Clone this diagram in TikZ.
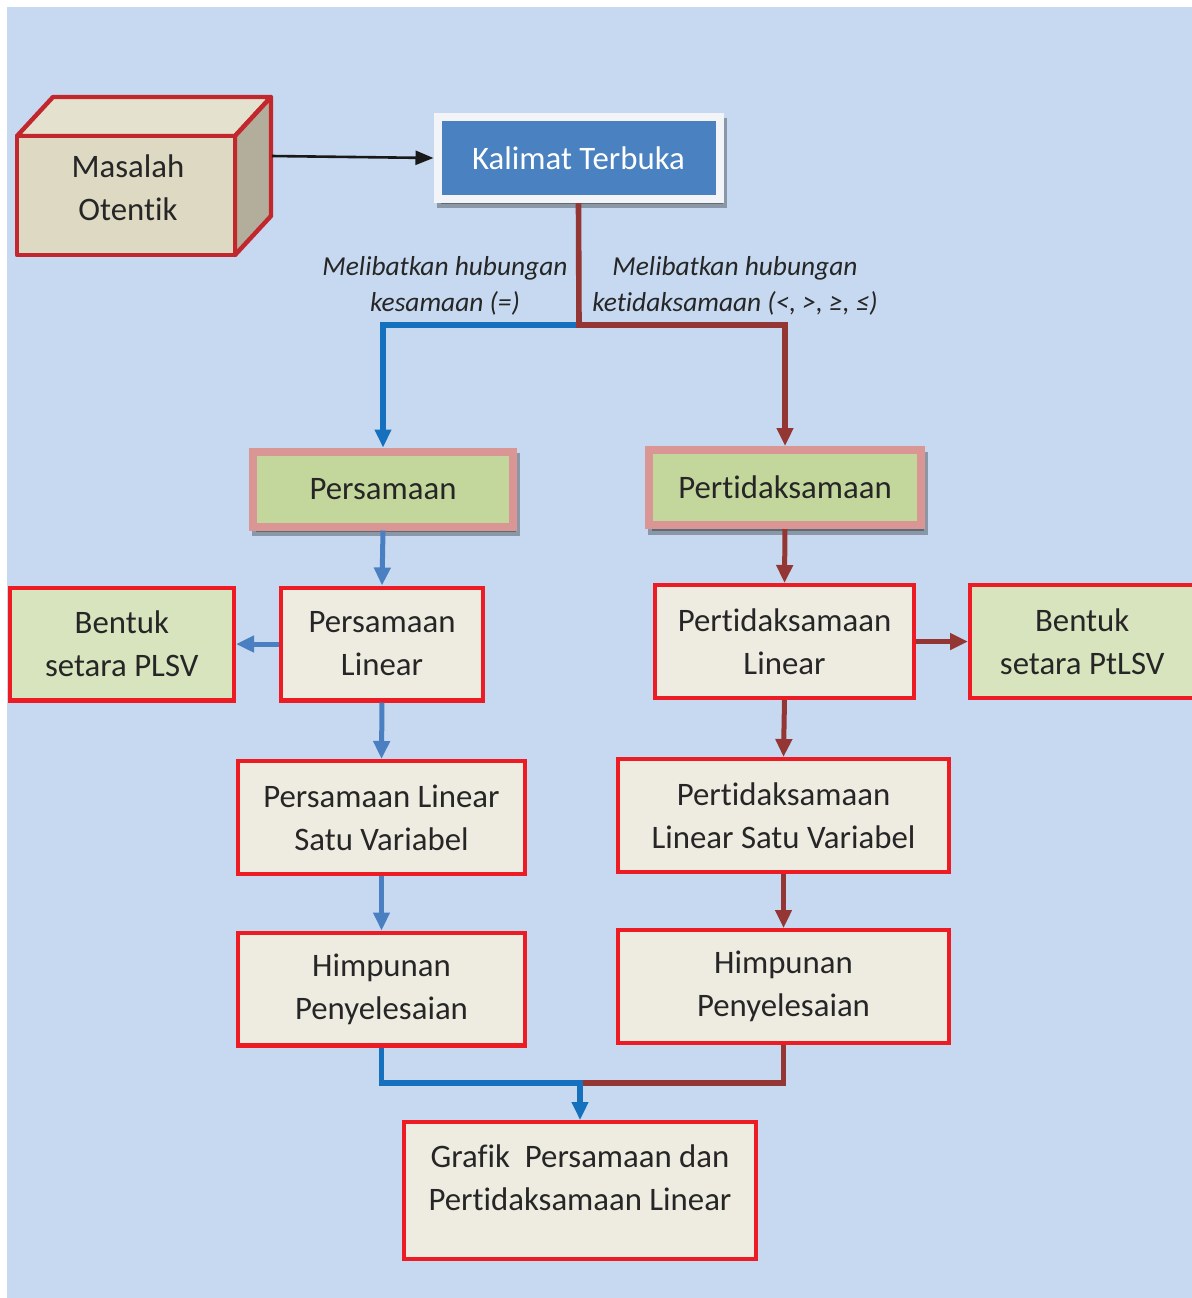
\documentclass[tikz,border=0pt]{standalone}
\usepackage{fontspec}
\setmainfont{Carlito}[Ligatures=NoCommon]
\usepackage{xcolor}
\definecolor{BgBlue}{HTML}{C6D9F0}
\definecolor{CubeRed}{HTML}{C1272D}
\definecolor{CubeFront}{HTML}{DDD9C3}
\definecolor{CubeTop}{HTML}{E4E1CE}
\definecolor{CubeSide}{HTML}{B3AE9B}
\definecolor{TitleBlue}{HTML}{4A81C0}
\definecolor{FrameWhite}{HTML}{F2F4F7}
\definecolor{PinkEdge}{HTML}{D99694}
\definecolor{TopicGreen}{HTML}{C3D69B}
\definecolor{BoxRed}{HTML}{ED1C24}
\definecolor{Cream}{HTML}{EEECE1}
\definecolor{PaleGreen}{HTML}{D7E4BD}
\definecolor{LineBlue}{HTML}{1570BE}
\definecolor{StepBlue}{HTML}{4A7FC1}
\definecolor{LineBrown}{HTML}{943634}
\definecolor{InkGray}{HTML}{262626}
\usetikzlibrary{
    arrows.meta,
    positioning,
    shadows
}

\begin{document}
\begin{tikzpicture}[
    x=0.5pt,
    y=-0.5pt,
    boxtext/.style={
        font=\fontsize{16.4}{21.5}\selectfont,
        text=InkGray,
        align=center
    },
    stage/.style={
        boxtext,
        draw=BoxRed,
        fill=Cream,
        line width=2.2pt,
        minimum height=56.3pt
    },
    form/.style={
        stage,
        fill=PaleGreen,
        minimum width=112pt
    },
    topic/.style={
        boxtext,
        draw=PinkEdge,
        fill=TopicGreen,
        line width=4pt,
        minimum height=37.5pt,
        drop shadow={shadow xshift=1.5pt, shadow yshift=-2.8pt,
            fill=black, draw=black, line width=4pt, opacity=0.3}
    },
    face/.style={
        draw=CubeRed,
        line width=2.2pt,
        line join=round
    },
    relation/.style={
        font=\fontsize{13.7}{18}\selectfont\itshape,
        text=InkGray,
        align=center
    },
    mainblue/.style={
        line width=2.8pt,
        color=LineBlue
    },
    mainbrown/.style={
        line width=2.8pt,
        color=LineBrown
    },
    tip/.style={
        -{Triangle[length=9pt,width=8pt]}
    },
    stepblue/.style={
        tip,
        line width=2.5pt,
        color=StepBlue
    },
    stepbrown/.style={
        tip,
        line width=2.5pt,
        color=LineBrown
    }
]
\useasboundingbox (0,0) rectangle (1192,1298);
\fill[BgBlue] (7,7) rectangle (1192,1298);
%
% box 3D
\filldraw[face, fill=CubeTop]
    (17,136) -- (53,97) -- (271,97) -- (235,136) -- cycle;
\filldraw[face, fill=CubeSide]
    (235,136) -- (271,97) -- (271,216) -- (235,255) -- cycle;
\filldraw[face, fill=CubeFront]
    (17,136) rectangle (235,255);
\node[boxtext] (masalah) at (128,188) {
    Masalah\\
    Otentik
};
\coordinate (cubeside) at (272,156);
%
\node[
    boxtext,
    text=white,
    draw=FrameWhite,
    fill=TitleBlue,
    line width=4pt,
    minimum width=141pt,
    minimum height=41pt,
    drop shadow={shadow xshift=1.5pt, shadow yshift=-2.5pt,
        fill=black, draw=black, line width=4pt, opacity=0.3}
] (kalimat) at (578.5,158) {Kalimat Terbuka};
%
\draw[-{Triangle[length=9pt,width=7pt]}, line width=1.3pt, color=black!90]
    (cubeside) -- (kalimat.west);
%
\node[relation] (samaLabel) at (445,286) {
    Melibatkan hubungan\\
    kesamaan (=)
};
\node[relation] (tidakLabel) at (735,286) {
    Melibatkan hubungan\\
    ketidaksamaan (<, >, ≥, ≤)
};
%
\node[topic, minimum width=130pt] (persamaan) at (383,489) {Persamaan};
\node[topic, minimum width=136pt] (pertidak) at (785,487.5) {Pertidaksamaan};
%
\coordinate (split) at (579,325);
\draw[mainblue, tip]
    (split)
    -|
    (persamaan.north);
\draw[mainbrown, tip]
    (kalimat.south)
    --
    (split)
    -|
    (pertidak.north);
%
% kolom persamaan
\node[stage, minimum width=100.8pt] (pl) at (382,644) {
    Persamaan\\
    Linear
};
\node[form, left=21.5pt of pl] (plsvForm) {
    Bentuk\\
    setara PLSV
};
\node[stage, minimum width=143.3pt] (plsv) at (381.5,817.5) {
    Persamaan Linear\\
    Satu Variabel
};
\node[stage, minimum width=143.3pt] (hpKiri) at (381.5,989) {
    Himpunan\\
    Penyelesaian
};
%
% kolom pertidaksamaan
\node[stage, minimum width=129.3pt] (ptl) at (784.5,641.5) {
    Pertidaksamaan\\
    Linear
};
\node[form, right=26pt of ptl] (ptlsvForm) {
    Bentuk\\
    setara PtLSV
};
\node[stage, minimum width=165.3pt] (ptlsv) at (783.5,815.5) {
    Pertidaksamaan\\
    Linear Satu Variabel
};
\node[stage, minimum width=165.3pt] (hpKanan) at (783.5,986.5) {
    Himpunan\\
    Penyelesaian
};
%
\node[stage, minimum width=175.8pt, minimum height=68.3pt, text depth=13.3pt] (grafik) at (580,1190.5) {
    Grafik~ Persamaan dan\\
    Pertidaksamaan Linear
};
%
\draw[stepblue] (persamaan.south) -- (pl.north);
\draw[stepblue] (pl.west) -- (plsvForm.east);
\draw[stepblue] (pl.south) -- (plsv.north);
\draw[stepblue] (plsv.south) -- (hpKiri.north);
%
\draw[stepbrown] (pertidak.south) -- (ptl.north);
\draw[stepbrown] (ptl.east) -- (ptlsvForm.west);
\draw[stepbrown] (ptl.south) -- (ptlsv.north);
\draw[stepbrown] (ptlsv.south) -- (hpKanan.north);
%
\coordinate (merge) at (580,1083);
\draw[mainbrown]
    (hpKanan.south)
    |-
    (merge);
\draw[mainblue, tip]
    (hpKiri.south)
    |-
    (merge)
    --
    (grafik.north);
%
\end{tikzpicture}
\end{document}
